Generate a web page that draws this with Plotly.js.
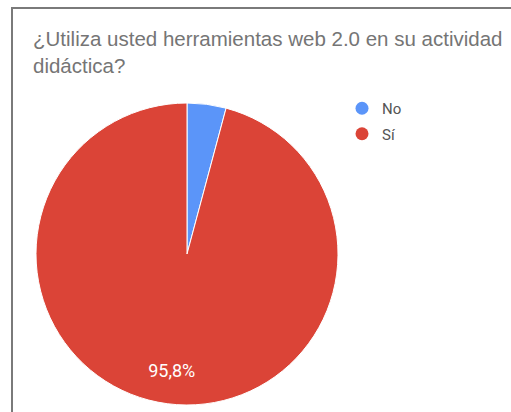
<!DOCTYPE html>
<html>
<head>
<meta charset="utf-8">
<script src="https://cdn.plot.ly/plotly-3.0.1.min.js"></script>
<style>
html,body{margin:0;padding:0;background:#fff;overflow:hidden;}
#frame{position:absolute;left:11px;top:7px;width:700px;height:600px;border-left:2px solid #7a7a7a;border-top:2px solid #7a7a7a;}
#chart{position:absolute;left:0;top:0;width:511px;height:412px;}
</style>
</head>
<body>
<div id="frame"></div>
<div id="chart"></div>
<script>
const categories = ['No', 'Sí'];
const counts = [1, 23];
const colors = ['#5b95f9', '#db4437'];
const titleText = '¿Utiliza usted herramientas web 2.0 en su actividad<br>didáctica?';

const pieDomain = {x: [36/511, 338/511], y: [7/412, 309/412]};

const pie = {
  type: 'pie',
  labels: categories,
  values: counts,
  sort: false,
  direction: 'clockwise',
  rotation: 0,
  marker: {colors: colors, line: {color: '#ffffff', width: 1}},
  textinfo: 'none',
  hoverinfo: 'none',
  showlegend: false,
  domain: pieDomain
};

// transparent overlay ring, only used to place the percentage label
const labelPie = {
  type: 'pie',
  labels: categories,
  values: counts,
  sort: false,
  direction: 'clockwise',
  rotation: 0,
  hole: 0.55,
  marker: {colors: ['rgba(0,0,0,0)', 'rgba(0,0,0,0)'], line: {width: 0}},
  texttemplate: categories.map((c, i) => i === 1 ? '%{percent:.1%}' : ''),
  textposition: 'inside',
  insidetextorientation: 'horizontal',
  textfont: {family: 'Roboto, Liberation Sans, Arial, sans-serif', size: 18, color: '#ffffff'},
  hoverinfo: 'none',
  showlegend: false,
  domain: pieDomain
};

const legendTraces = categories.map((c, i) => ({
  type: 'scatter', mode: 'markers', x: [null], y: [null], name: c,
  legendgroup: 'g' + i,
  marker: {symbol: 'circle', size: 13, color: colors[i]},
  hoverinfo: 'skip', showlegend: true
}));

const layout = {
  width: 511, height: 412,
  margin: {l: 0, r: 0, t: 0, b: 0},
  paper_bgcolor: 'rgba(0,0,0,0)',
  plot_bgcolor: 'rgba(0,0,0,0)',
  separators: ',.',
  font: {family: 'Liberation Sans, Arial, sans-serif'},
  title: {
    text: titleText,
    x: 33/511, xanchor: 'left', xref: 'container',
    y: 1 - 46/412, yanchor: 'top', yref: 'container',
    font: {size: 20.5, color: '#757575', family: 'Liberation Sans, Arial, sans-serif'}
  },
  xaxis: {visible: false, domain: [0.99, 1]},
  yaxis: {visible: false, domain: [0.99, 1]},
  showlegend: true,
  legend: {
    x: 342/511, xanchor: 'left', y: 1 - 92/412, yanchor: 'top',
    font: {size: 15, color: '#555555', family: 'Roboto, Liberation Sans, Arial, sans-serif'},
    itemclick: false, itemdoubleclick: false, tracegroupgap: 3,
    bgcolor: 'rgba(0,0,0,0)'
  }
};

Plotly.newPlot('chart', [pie, labelPie].concat(legendTraces), layout, {displayModeBar: false, staticPlot: true});
</script>
</body>
</html>
